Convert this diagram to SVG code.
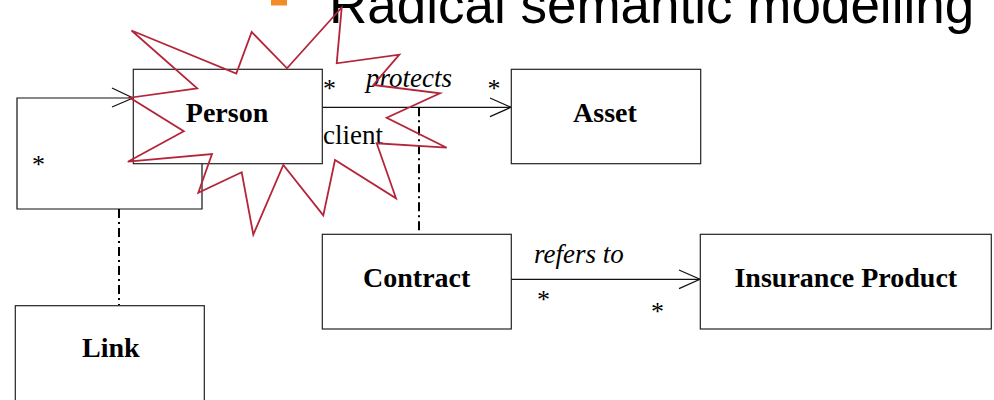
<svg xmlns="http://www.w3.org/2000/svg" width="994" height="400" viewBox="0 0 994 400">
  <style>
    .box { fill: #ffffff; stroke: #222222; stroke-width: 1.2; }
    .name { font-family: "Liberation Serif", "Times New Roman", serif; font-weight: bold; font-size: 28px; fill: #000000; text-anchor: middle; }
    .role { font-family: "Liberation Serif", "Times New Roman", serif; font-size: 27px; fill: #000000; }
    .assoc { font-family: "Liberation Serif", "Times New Roman", serif; font-style: italic; font-size: 27px; fill: #000000; }
    .mult { font-family: "Liberation Serif", "Times New Roman", serif; font-size: 26px; fill: #000000; text-anchor: middle; }
    .line { fill: none; stroke: #111111; stroke-width: 1.2; }
    .dashdot { fill: none; stroke: #000000; stroke-width: 2; stroke-dasharray: 9 4 2 4; }
    .title { font-family: "Liberation Sans", Arial, sans-serif; font-size: 53px; fill: #000000; }
  </style>

  <rect x="271" y="-12" width="16" height="17.5" fill="#F28C28"/>
  <text class="title" x="329" y="22.5">Radical semantic modelling</text>

  <g id="connectors">
    <path class="line" d="M202 164 V209 H17 V98 H133"/>
    <path class="line" d="M112 88 L133 98 L112 107"/>
    <line class="dashdot" x1="119" y1="209" x2="119" y2="305"/>
    <path class="line" d="M322 107.3 H511"/>
    <path class="line" d="M490 98 L511 107.3 L490 116.6"/>
    <line class="dashdot" x1="419" y1="107.3" x2="419" y2="234"/>
    <path class="line" d="M511 279.3 H700"/>
    <path class="line" d="M679 270 L700 279.3 L679 288.6"/>
    <text class="mult" x="38.5" y="173">*</text>
    <text class="mult" x="329.5" y="97">*</text>
    <text class="mult" x="494" y="97">*</text>
    <text class="assoc" x="366" y="87">protects</text>
    <text class="role" x="323" y="144.3">client</text>
    <text class="assoc" x="534" y="263.3">refers to</text>
    <text class="mult" x="543.5" y="308">*</text>
    <text class="mult" x="657.5" y="320">*</text>
  </g>

  <g id="person">
    <rect class="box" x="133.3" y="69.3" width="189" height="94.4"/>
    <text class="name" x="227" y="121.7">Person</text>
  </g>
  <g id="asset">
    <rect class="box" x="511.3" y="69.3" width="189.4" height="94.4"/>
    <text class="name" x="605" y="121.7">Asset</text>
  </g>
  <g id="contract">
    <rect class="box" x="322.3" y="234.3" width="189" height="94.7"/>
    <text class="name" x="416.7" y="287.3">Contract</text>
  </g>
  <g id="insurance-product">
    <rect class="box" x="700.3" y="234.3" width="291" height="94.7"/>
    <text class="name" x="845.8" y="287.3">Insurance Product</text>
  </g>
  <g id="link">
    <rect class="box" x="15.3" y="305.7" width="189" height="100"/>
    <text class="name" x="110.8" y="357.3">Link</text>
  </g>

  <polygon fill="none" stroke="#B5253A" stroke-width="1.8" stroke-linejoin="miter" points="131.5,30.5 236.3,73.6 251.7,32 287,68.3 341.7,7.5 336.7,63.3 399.3,54.6 373.3,85 440,93.3 386.7,117.7 446.7,147.7 376.7,143.3 396,198.3 335,160 323.3,215.4 283.3,165 253.3,234.6 241.7,172.3 198.3,192.7 212,154 127.8,161.7 183.8,131.3 130,97.7 197.2,88.3"/>
</svg>
